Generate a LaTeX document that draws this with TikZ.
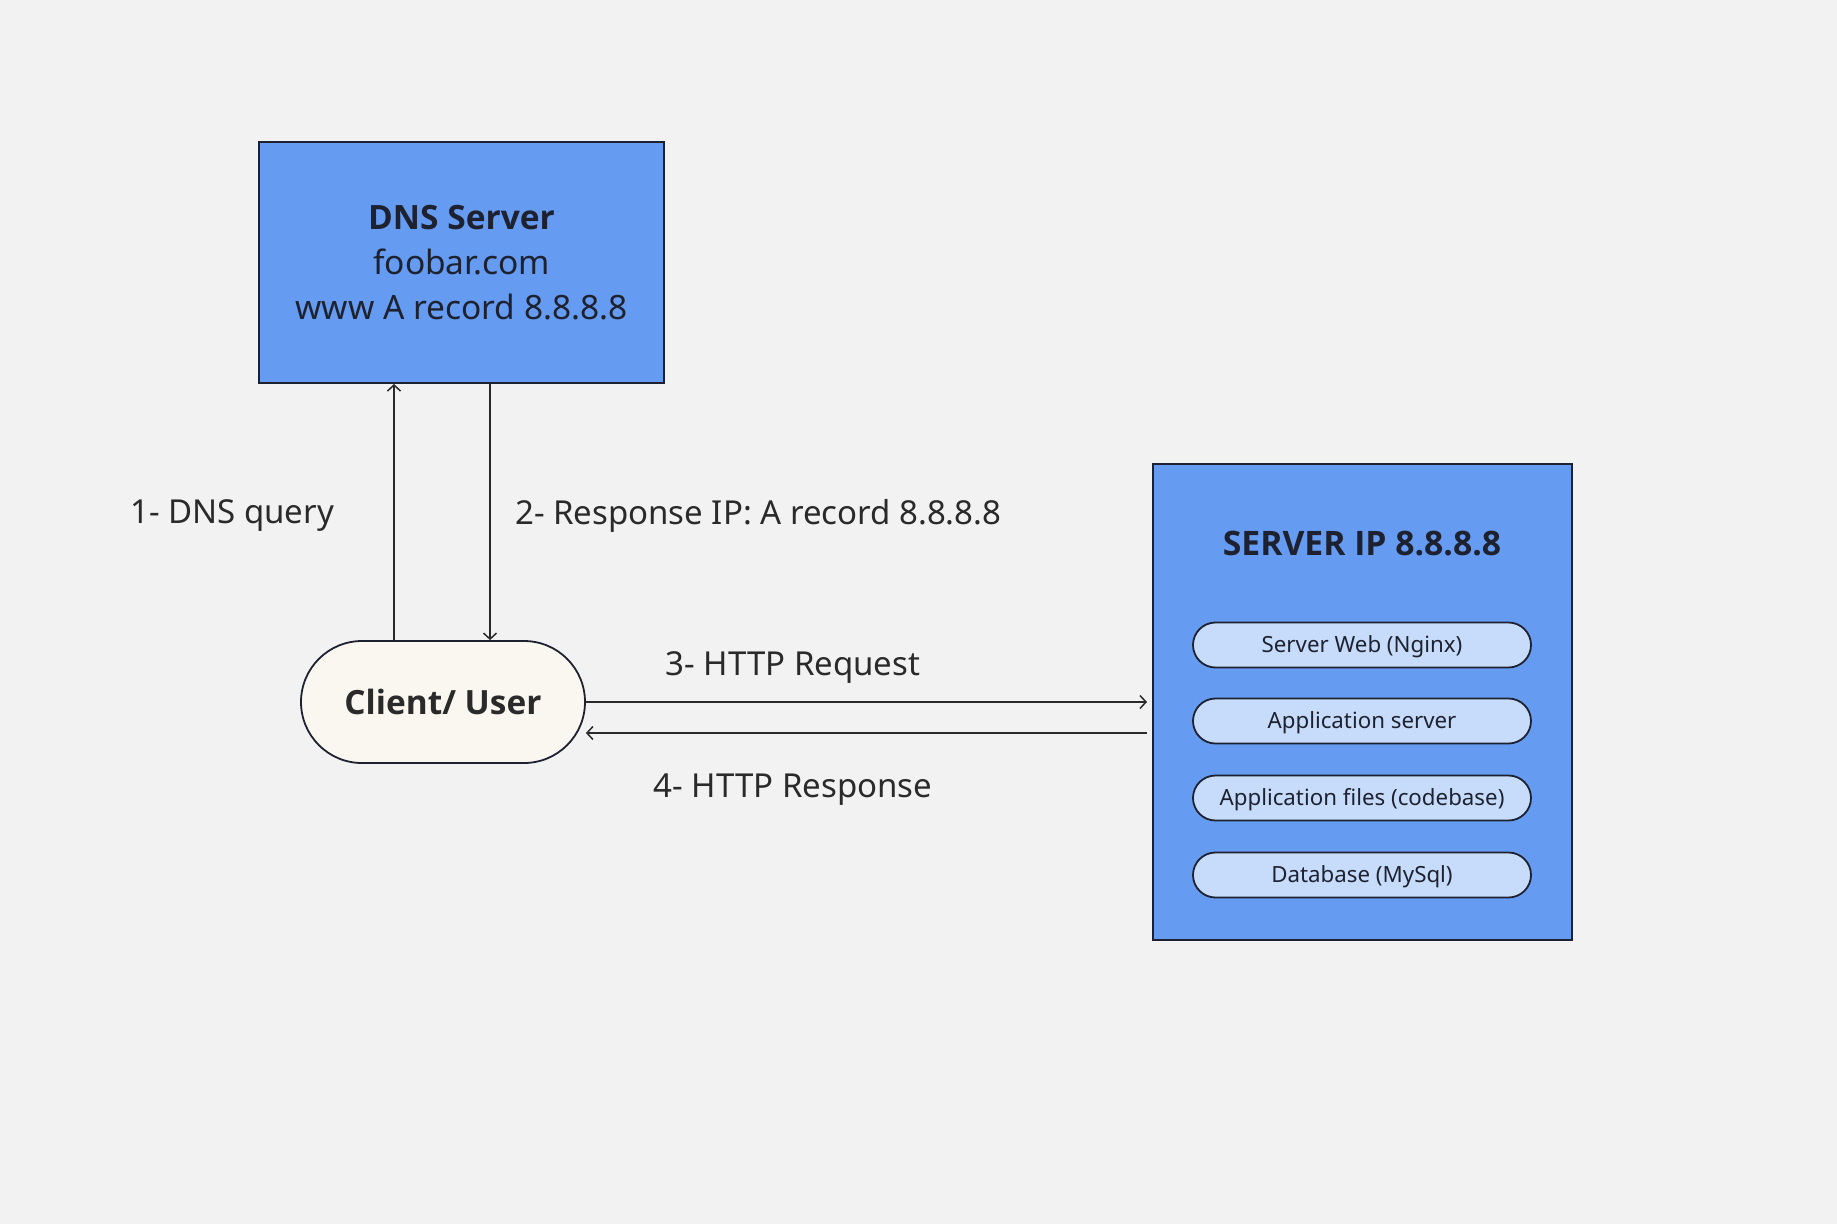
\documentclass[tikz,border=0pt]{standalone}
\usepackage{fontspec}
\setmainfont{Noto Sans}
\newfontfamily\boldfam{Open Sans}
\usetikzlibrary{shapes.misc,arrows.meta}
\definecolor{bgc}{HTML}{F2F2F2}
\definecolor{boxblue}{HTML}{659BF0}
\definecolor{pillblue}{HTML}{C6DCFA}
\definecolor{cream}{HTML}{FAF7F0}
\definecolor{ink}{HTML}{1E2230}
\definecolor{txt}{HTML}{2A2A2A}
\tikzset{
  bigbox/.style={draw=ink, line width=2pt, fill=boxblue, rectangle, inner sep=0pt},
  pill/.style={draw=ink, line width=1.8pt, fill=pillblue, rounded rectangle, minimum width=338pt, minimum height=45pt, inner sep=0pt, text height=15.9pt, text depth=0pt, text=ink, font=\fontsize{22.3}{26}\selectfont},
  lbl/.style={text=txt, inner sep=0pt, font=\fontsize{33}{38}\selectfont},
  arr/.style={draw=txt, line width=1.5pt, -{Straight Barb[length=6pt,width=13pt,line width=1.5pt]}}
}
\begin{document}
\begin{tikzpicture}[x=1pt,y=-1pt]
\fill[bgc] (0,0) rectangle (1837,1224);
\useasboundingbox (0,0) rectangle (1837,1224);

\node[bigbox, minimum width=405pt, minimum height=241pt, align=center, text=ink,
  font=\fontsize{33.5}{45}\selectfont] (dns) at (461.5,262.5)
  {{\boldfam\bfseries DNS Server}\\foobar.com\\www A record 8.8.8.8};

\node[draw=ink, line width=1.8pt, fill=cream, rounded rectangle, minimum width=284pt,
  minimum height=122pt, inner sep=0pt, text=txt, font=\boldfam\bfseries\fontsize{33.4}{40}\selectfont]
  (client) at (443,702) {Client/ User};

\node[bigbox, minimum width=419pt, minimum height=476pt] (server) at (1362.5,702) {};
\node[text=ink, inner sep=0pt, font=\boldfam\bfseries\fontsize{33.7}{40}\selectfont] (title) at (1362,544) {SERVER IP 8.8.8.8};
\node[pill] (p1) at (1362,645) {Server Web (Nginx)};
\node[pill] (p2) at (1362,721) {Application server};
\node[pill] (p3) at (1362,798) {Application files (codebase)};
\node[pill] (p4) at (1362,875) {Database (MySql)};

\draw[arr] ([xshift=-49pt]client.north) -- ([xshift=-49pt]client.north |- dns.south);
\draw[arr] ([xshift=47pt]client.north |- dns.south) -- ([xshift=47pt]client.north);
\draw[arr, shorten >=5pt] (client.east) -- (client.east -| server.west);
\draw[arr, shorten <=5pt] ([yshift=-31pt]client.east -| server.west) -- ([yshift=-31pt]client.east);

\node[lbl] (l1) at (232,516) {1- DNS query};
\node[lbl, anchor=west] (l2) at (515,516) {2- Response IP: A record 8.8.8.8};
\node[lbl] (l3) at (793,668) {3- HTTP Request};
\node[lbl] (l4) at (793,790) {4- HTTP Response};
\end{tikzpicture}
\end{document}
